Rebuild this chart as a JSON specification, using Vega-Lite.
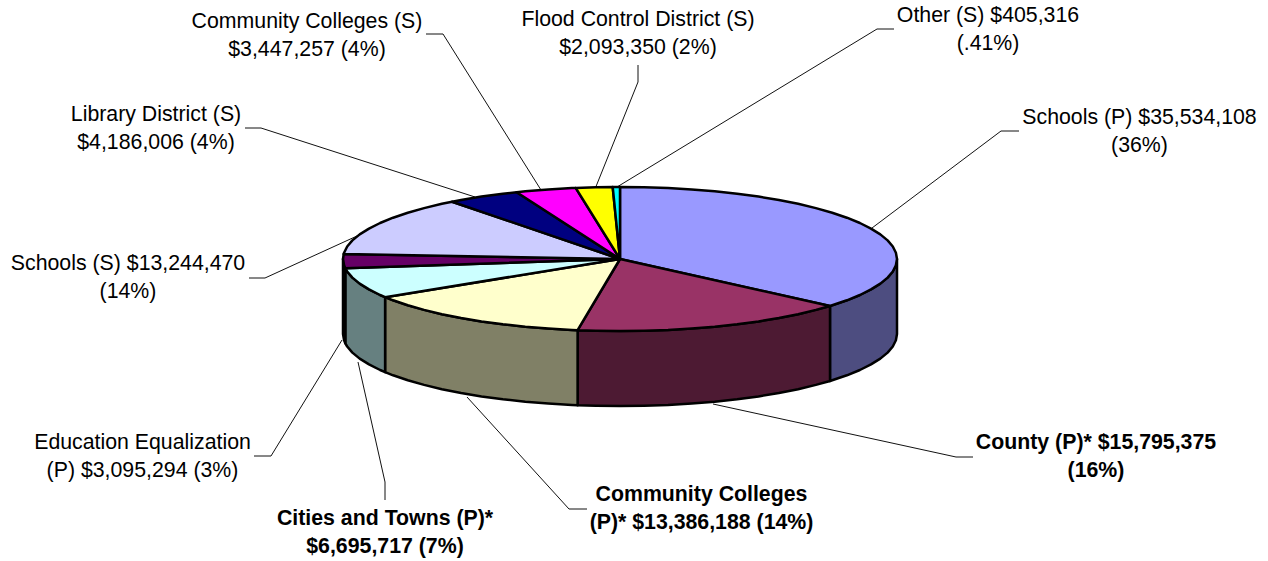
{"$schema":"https://vega.github.io/schema/vega-lite/v6.json","width":1268,"height":561,"autosize":{"type":"fit","contains":"padding"},"padding":0,"background":"white","config":{"view":{"stroke":null}},
"datasets":{
"wall":[
{"slice":"Schools P","x":277,"y":0,"y2":-75},{"slice":"Schools P","x":275.9,"y":-6.3,"y2":-81.3},{"slice":"Schools P","x":272.8,"y":-12.5,"y2":-87.5},{"slice":"Schools P","x":267.6,"y":-18.6,"y2":-93.6},{"slice":"Schools P","x":260.3,"y":-24.6,"y2":-99.6},{"slice":"Schools P","x":251,"y":-30.4,"y2":-105.4},{"slice":"Schools P","x":239.9,"y":-36,"y2":-111},{"slice":"Schools P","x":226.9,"y":-41.3,"y2":-116.3},{"slice":"Schools P","x":212.2,"y":-46.3,"y2":-121.3},{"slice":"Schools P","x":210,"y":-47,"y2":-122},
{"slice":"County","x":210,"y":-47,"y2":-122},{"slice":"County","x":195.9,"y":-50.9,"y2":-125.9},{"slice":"County","x":178.1,"y":-55.2,"y2":-130.2},{"slice":"County","x":158.9,"y":-59,"y2":-134},{"slice":"County","x":138.5,"y":-62.4,"y2":-137.4},{"slice":"County","x":117.1,"y":-65.3,"y2":-140.3},{"slice":"County","x":94.7,"y":-67.7,"y2":-142.7},{"slice":"County","x":71.7,"y":-69.5,"y2":-144.5},{"slice":"County","x":48.1,"y":-70.9,"y2":-145.9},{"slice":"County","x":24.1,"y":-71.7,"y2":-146.7},{"slice":"County","x":0,"y":-72,"y2":-147},{"slice":"County","x":-24.1,"y":-71.7,"y2":-146.7},{"slice":"County","x":-42.4,"y":-71.2,"y2":-146.2},
{"slice":"Community Colleges P","x":-42.4,"y":-71.2,"y2":-146.2},{"slice":"Community Colleges P","x":-48.1,"y":-70.9,"y2":-145.9},{"slice":"Community Colleges P","x":-71.7,"y":-69.5,"y2":-144.5},{"slice":"Community Colleges P","x":-94.7,"y":-67.7,"y2":-142.7},{"slice":"Community Colleges P","x":-117.1,"y":-65.3,"y2":-140.3},{"slice":"Community Colleges P","x":-138.5,"y":-62.4,"y2":-137.4},{"slice":"Community Colleges P","x":-158.9,"y":-59,"y2":-134},{"slice":"Community Colleges P","x":-178.1,"y":-55.2,"y2":-130.2},{"slice":"Community Colleges P","x":-195.9,"y":-50.9,"y2":-125.9},{"slice":"Community Colleges P","x":-212.2,"y":-46.3,"y2":-121.3},{"slice":"Community Colleges P","x":-226.9,"y":-41.3,"y2":-116.3},{"slice":"Community Colleges P","x":-234.9,"y":-38.2,"y2":-113.2},
{"slice":"Cities and Towns","x":-234.9,"y":-38.2,"y2":-113.2},{"slice":"Cities and Towns","x":-239.9,"y":-36,"y2":-111},{"slice":"Cities and Towns","x":-251,"y":-30.4,"y2":-105.4},{"slice":"Cities and Towns","x":-260.3,"y":-24.6,"y2":-99.6},{"slice":"Cities and Towns","x":-267.6,"y":-18.6,"y2":-93.6},{"slice":"Cities and Towns","x":-272.8,"y":-12.5,"y2":-87.5},{"slice":"Cities and Towns","x":-274.7,"y":-9.3,"y2":-84.3},
{"slice":"Education Equalization","x":-274.7,"y":-9.3,"y2":-84.3},{"slice":"Education Equalization","x":-275.9,"y":-6.3,"y2":-81.3},{"slice":"Education Equalization","x":-277,"y":0,"y2":-75}
],
"top":[
{"slice":"Schools P","i":0,"x":0,"y":0},{"slice":"Schools P","i":1,"x":0,"y":72},{"slice":"Schools P","i":2,"x":24.1,"y":71.7},{"slice":"Schools P","i":3,"x":48.1,"y":70.9},{"slice":"Schools P","i":4,"x":71.7,"y":69.5},{"slice":"Schools P","i":5,"x":94.7,"y":67.7},{"slice":"Schools P","i":6,"x":117.1,"y":65.3},{"slice":"Schools P","i":7,"x":138.5,"y":62.4},{"slice":"Schools P","i":8,"x":158.9,"y":59},{"slice":"Schools P","i":9,"x":178.1,"y":55.2},{"slice":"Schools P","i":10,"x":195.9,"y":50.9},{"slice":"Schools P","i":11,"x":212.2,"y":46.3},{"slice":"Schools P","i":12,"x":226.9,"y":41.3},{"slice":"Schools P","i":13,"x":239.9,"y":36},{"slice":"Schools P","i":14,"x":251,"y":30.4},{"slice":"Schools P","i":15,"x":260.3,"y":24.6},{"slice":"Schools P","i":16,"x":267.6,"y":18.6},{"slice":"Schools P","i":17,"x":272.8,"y":12.5},{"slice":"Schools P","i":18,"x":275.9,"y":6.3},{"slice":"Schools P","i":19,"x":277,"y":0},{"slice":"Schools P","i":20,"x":275.9,"y":-6.3},{"slice":"Schools P","i":21,"x":272.8,"y":-12.5},{"slice":"Schools P","i":22,"x":267.6,"y":-18.6},{"slice":"Schools P","i":23,"x":260.3,"y":-24.6},{"slice":"Schools P","i":24,"x":251,"y":-30.4},{"slice":"Schools P","i":25,"x":239.9,"y":-36},{"slice":"Schools P","i":26,"x":226.9,"y":-41.3},{"slice":"Schools P","i":27,"x":212.2,"y":-46.3},{"slice":"Schools P","i":28,"x":210,"y":-47},{"slice":"Schools P","i":29,"x":0,"y":0},
{"slice":"County","i":0,"x":0,"y":0},{"slice":"County","i":1,"x":210,"y":-47},{"slice":"County","i":2,"x":195.9,"y":-50.9},{"slice":"County","i":3,"x":178.1,"y":-55.2},{"slice":"County","i":4,"x":158.9,"y":-59},{"slice":"County","i":5,"x":138.5,"y":-62.4},{"slice":"County","i":6,"x":117.1,"y":-65.3},{"slice":"County","i":7,"x":94.7,"y":-67.7},{"slice":"County","i":8,"x":71.7,"y":-69.5},{"slice":"County","i":9,"x":48.1,"y":-70.9},{"slice":"County","i":10,"x":24.1,"y":-71.7},{"slice":"County","i":11,"x":0,"y":-72},{"slice":"County","i":12,"x":-24.1,"y":-71.7},{"slice":"County","i":13,"x":-42.4,"y":-71.2},{"slice":"County","i":14,"x":0,"y":0},
{"slice":"Community Colleges P","i":0,"x":0,"y":0},{"slice":"Community Colleges P","i":1,"x":-42.4,"y":-71.2},{"slice":"Community Colleges P","i":2,"x":-48.1,"y":-70.9},{"slice":"Community Colleges P","i":3,"x":-71.7,"y":-69.5},{"slice":"Community Colleges P","i":4,"x":-94.7,"y":-67.7},{"slice":"Community Colleges P","i":5,"x":-117.1,"y":-65.3},{"slice":"Community Colleges P","i":6,"x":-138.5,"y":-62.4},{"slice":"Community Colleges P","i":7,"x":-158.9,"y":-59},{"slice":"Community Colleges P","i":8,"x":-178.1,"y":-55.2},{"slice":"Community Colleges P","i":9,"x":-195.9,"y":-50.9},{"slice":"Community Colleges P","i":10,"x":-212.2,"y":-46.3},{"slice":"Community Colleges P","i":11,"x":-226.9,"y":-41.3},{"slice":"Community Colleges P","i":12,"x":-234.9,"y":-38.2},{"slice":"Community Colleges P","i":13,"x":0,"y":0},
{"slice":"Cities and Towns","i":0,"x":0,"y":0},{"slice":"Cities and Towns","i":1,"x":-234.9,"y":-38.2},{"slice":"Cities and Towns","i":2,"x":-239.9,"y":-36},{"slice":"Cities and Towns","i":3,"x":-251,"y":-30.4},{"slice":"Cities and Towns","i":4,"x":-260.3,"y":-24.6},{"slice":"Cities and Towns","i":5,"x":-267.6,"y":-18.6},{"slice":"Cities and Towns","i":6,"x":-272.8,"y":-12.5},{"slice":"Cities and Towns","i":7,"x":-274.7,"y":-9.3},{"slice":"Cities and Towns","i":8,"x":0,"y":0},
{"slice":"Education Equalization","i":0,"x":0,"y":0},{"slice":"Education Equalization","i":1,"x":-274.7,"y":-9.3},{"slice":"Education Equalization","i":2,"x":-275.9,"y":-6.3},{"slice":"Education Equalization","i":3,"x":-277,"y":0},{"slice":"Education Equalization","i":4,"x":-276.3,"y":5},{"slice":"Education Equalization","i":5,"x":0,"y":0},
{"slice":"Schools S","i":0,"x":0,"y":0},{"slice":"Schools S","i":1,"x":-276.3,"y":5},{"slice":"Schools S","i":2,"x":-275.9,"y":6.3},{"slice":"Schools S","i":3,"x":-272.8,"y":12.5},{"slice":"Schools S","i":4,"x":-267.6,"y":18.6},{"slice":"Schools S","i":5,"x":-260.3,"y":24.6},{"slice":"Schools S","i":6,"x":-251,"y":30.4},{"slice":"Schools S","i":7,"x":-239.9,"y":36},{"slice":"Schools S","i":8,"x":-226.9,"y":41.3},{"slice":"Schools S","i":9,"x":-212.2,"y":46.3},{"slice":"Schools S","i":10,"x":-195.9,"y":50.9},{"slice":"Schools S","i":11,"x":-178.1,"y":55.2},{"slice":"Schools S","i":12,"x":-167.9,"y":57.3},{"slice":"Schools S","i":13,"x":0,"y":0},
{"slice":"Library District","i":0,"x":0,"y":0},{"slice":"Library District","i":1,"x":-167.9,"y":57.3},{"slice":"Library District","i":2,"x":-158.9,"y":59},{"slice":"Library District","i":3,"x":-138.5,"y":62.4},{"slice":"Library District","i":4,"x":-117.1,"y":65.3},{"slice":"Library District","i":5,"x":-103.3,"y":66.8},{"slice":"Library District","i":6,"x":0,"y":0},
{"slice":"Community Colleges S","i":0,"x":0,"y":0},{"slice":"Community Colleges S","i":1,"x":-103.3,"y":66.8},{"slice":"Community Colleges S","i":2,"x":-94.7,"y":67.7},{"slice":"Community Colleges S","i":3,"x":-71.7,"y":69.5},{"slice":"Community Colleges S","i":4,"x":-48.1,"y":70.9},{"slice":"Community Colleges S","i":5,"x":-44.3,"y":71.1},{"slice":"Community Colleges S","i":6,"x":0,"y":0},
{"slice":"Flood Control District","i":0,"x":0,"y":0},{"slice":"Flood Control District","i":1,"x":-44.3,"y":71.1},{"slice":"Flood Control District","i":2,"x":-24.1,"y":71.7},{"slice":"Flood Control District","i":3,"x":-7.3,"y":72},{"slice":"Flood Control District","i":4,"x":0,"y":0},
{"slice":"Other","i":0,"x":0,"y":0},{"slice":"Other","i":1,"x":-7.3,"y":72},{"slice":"Other","i":2,"x":0,"y":72},{"slice":"Other","i":3,"x":0,"y":0}
],
"leaders":[
{"slice":"Schools P","i":0,"x":399,"y":128},{"slice":"Schools P","i":1,"x":381,"y":128},{"slice":"Schools P","i":2,"x":252,"y":31},
{"slice":"Other","i":0,"x":274,"y":230},{"slice":"Other","i":1,"x":257,"y":230},{"slice":"Other","i":2,"x":-3,"y":72},
{"slice":"Flood Control District","i":0,"x":18,"y":194},{"slice":"Flood Control District","i":1,"x":18,"y":177},{"slice":"Flood Control District","i":2,"x":-25,"y":70},
{"slice":"Community Colleges S","i":0,"x":-194,"y":225},{"slice":"Community Colleges S","i":1,"x":-177,"y":225},{"slice":"Community Colleges S","i":2,"x":-79,"y":69},
{"slice":"Library District","i":0,"x":-375,"y":131},{"slice":"Library District","i":1,"x":-359,"y":131},{"slice":"Library District","i":2,"x":-145,"y":62},
{"slice":"Schools S","i":0,"x":-371,"y":-19},{"slice":"Schools S","i":1,"x":-355,"y":-19},{"slice":"Schools S","i":2,"x":-263,"y":23},
{"slice":"Education Equalization","i":0,"x":-366,"y":-197},{"slice":"Education Equalization","i":1,"x":-349,"y":-197},{"slice":"Education Equalization","i":2,"x":-278,"y":-81},
{"slice":"Cities and Towns","i":0,"x":-235,"y":-241},{"slice":"Cities and Towns","i":1,"x":-235,"y":-223},{"slice":"Cities and Towns","i":2,"x":-262,"y":-103},
{"slice":"Community Colleges P","i":0,"x":-33,"y":-250},{"slice":"Community Colleges P","i":1,"x":-51,"y":-250},{"slice":"Community Colleges P","i":2,"x":-153,"y":-138},
{"slice":"County","i":0,"x":353,"y":-198},{"slice":"County","i":1,"x":336,"y":-198},{"slice":"County","i":2,"x":93,"y":-145}
],
"labels":[
{"label":"Schools (P) $35,534,108\n(36%)","bold":"no","x":519.5,"y":141},
{"label":"Other (S) $405,316\n(.41%)","bold":"no","x":368,"y":243},
{"label":"Flood Control District (S)\n$2,093,350 (2%)","bold":"no","x":18,"y":239},
{"label":"Community Colleges (S)\n$3,447,257 (4%)","bold":"no","x":-313,"y":237},
{"label":"Library District (S)\n$4,186,006 (4%)","bold":"no","x":-464,"y":144},
{"label":"Schools (S) $13,244,470\n(14%)","bold":"no","x":-492,"y":-5},
{"label":"Education Equalization\n(P) $3,095,294 (3%)","bold":"no","x":-477.5,"y":-184},
{"label":"Cities and Towns (P)*\n$6,695,717 (7%)","bold":"yes","x":-235,"y":-260},
{"label":"Community Colleges\n(P)* $13,386,188 (14%)","bold":"yes","x":81.5,"y":-236},
{"label":"County (P)* $15,795,375\n(16%)","bold":"yes","x":476,"y":-184}
]},
"encoding":{
"x":{"field":"x","type":"quantitative","axis":null,"scale":{"domain":[-620,648],"nice":false,"zero":false}},
"y":{"field":"y","type":"quantitative","axis":null,"scale":{"domain":[-302,259],"nice":false,"zero":false}}
},
"layer":[
{"data":{"name":"leaders"},"mark":{"type":"line","stroke":"#111111","strokeWidth":1},"encoding":{"detail":{"field":"slice"},"order":{"field":"i"}}},
{"data":{"name":"wall"},"mark":{"type":"area","stroke":"black","strokeWidth":2.5,"strokeJoin":"round","opacity":1},"encoding":{"y2":{"field":"y2"},"fill":{"field":"slice","legend":null,"scale":{"domain":["Schools P","County","Community Colleges P","Cities and Towns","Education Equalization"],"range":["#4D4D80","#4D1A33","#808066","#668080","#330033"]}}}},
{"data":{"name":"top"},"mark":{"type":"line","filled":true,"stroke":"black","strokeWidth":2.5,"strokeJoin":"round"},"encoding":{"order":{"field":"i"},"detail":{"field":"slice"},"fill":{"field":"slice","legend":null,"scale":{"domain":["Schools P","County","Community Colleges P","Cities and Towns","Education Equalization","Schools S","Library District","Community Colleges S","Flood Control District","Other"],"range":["#9999FF","#993366","#FFFFCC","#CCFFFF","#660066","#CCCCFF","#000080","#FF00FF","#FFFF00","#00FFFF"]}}}},
{"data":{"name":"labels"},"transform":[{"filter":"datum.bold === 'no'"}],"mark":{"type":"text","font":"Liberation Sans","fontSize":21.3,"lineBreak":"\n","lineHeight":28,"align":"center","baseline":"middle","fill":"black"},"encoding":{"text":{"field":"label"}}},
{"data":{"name":"labels"},"transform":[{"filter":"datum.bold === 'yes'"}],"mark":{"type":"text","font":"Liberation Sans","fontSize":21.3,"fontWeight":"bold","lineBreak":"\n","lineHeight":28,"align":"center","baseline":"middle","fill":"black"},"encoding":{"text":{"field":"label"}}}
],
"resolve":{"scale":{"fill":"independent"}}
}
